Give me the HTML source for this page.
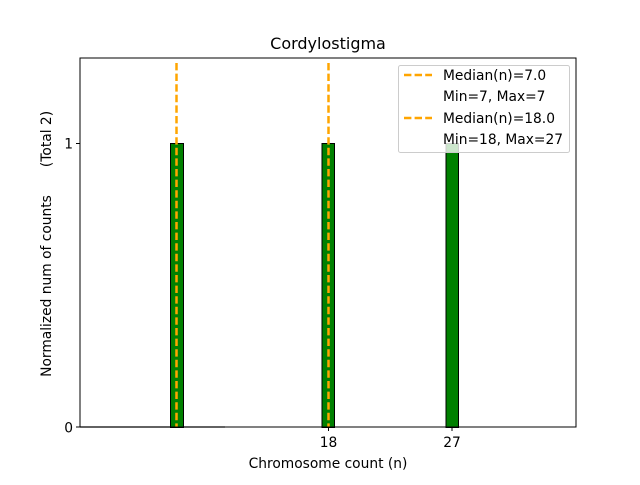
<!DOCTYPE html>
<html><head><style>body{margin:0;background:#fff}</style></head><body>
<svg width="640" height="480" xmlns="http://www.w3.org/2000/svg" font-family="DejaVu Sans, Liberation Sans, sans-serif">
<rect width="640" height="480" fill="#fff"/>
<line x1="80" y1="427" x2="225" y2="427" stroke="#888" stroke-width="1.5"/>
<rect x="170.5" y="143.5" width="13" height="284" fill="#008000" stroke="#000" stroke-width="1"/>
<rect x="322" y="143.5" width="12.5" height="284" fill="#008000" stroke="#000" stroke-width="1"/>
<rect x="446" y="143.5" width="12.5" height="284" fill="#008000" stroke="#000" stroke-width="1"/>
<line x1="176.5" y1="63" x2="176.5" y2="427" stroke="#ffa500" stroke-width="2.5" stroke-dasharray="7.4,3.2"/>
<line x1="328.5" y1="63" x2="328.5" y2="427" stroke="#ffa500" stroke-width="2.5" stroke-dasharray="7.4,3.2"/>
<rect x="80" y="58" width="496" height="369" fill="none" stroke="#000" stroke-width="1"/>
<g font-size="13.8" fill="#000">
<line x1="80" y1="143.5" x2="76" y2="143.5" stroke="#000"/>
<line x1="80" y1="427" x2="76" y2="427" stroke="#000"/>
<text x="73" y="148.5" text-anchor="end">1</text>
<text x="73" y="432.5" text-anchor="end">0</text>
<line x1="328.5" y1="427" x2="328.5" y2="431" stroke="#000"/>
<line x1="452" y1="427" x2="452" y2="431" stroke="#000"/>
<text x="328.5" y="447" text-anchor="middle">18</text>
<text x="452" y="447" text-anchor="middle">27</text>
<text x="328" y="468" text-anchor="middle">Chromosome count (n)</text>
<text transform="translate(51,286) rotate(-90)" text-anchor="middle">Normalized num of counts</text>
<text transform="translate(51,139) rotate(-90)" text-anchor="middle">(Total 2)</text>
<text x="328" y="49" text-anchor="middle" font-size="16">Cordylostigma</text>
</g>
<rect x="398.5" y="65.5" width="171" height="87" rx="2" fill="#fff" fill-opacity="0.8" stroke="#ccc"/>
<g stroke="#ffa500" stroke-width="2.5" stroke-dasharray="7.4,3.2">
<line x1="404" y1="75" x2="432" y2="75"/>
<line x1="404" y1="118" x2="432" y2="118"/>
</g>
<g font-size="13.8" fill="#000">
<text x="443" y="80">Median(n)=7.0</text>
<text x="443" y="101">Min=7, Max=7</text>
<text x="443" y="123">Median(n)=18.0</text>
<text x="443" y="144">Min=18, Max=27</text>
</g>
</svg>
</body></html>
